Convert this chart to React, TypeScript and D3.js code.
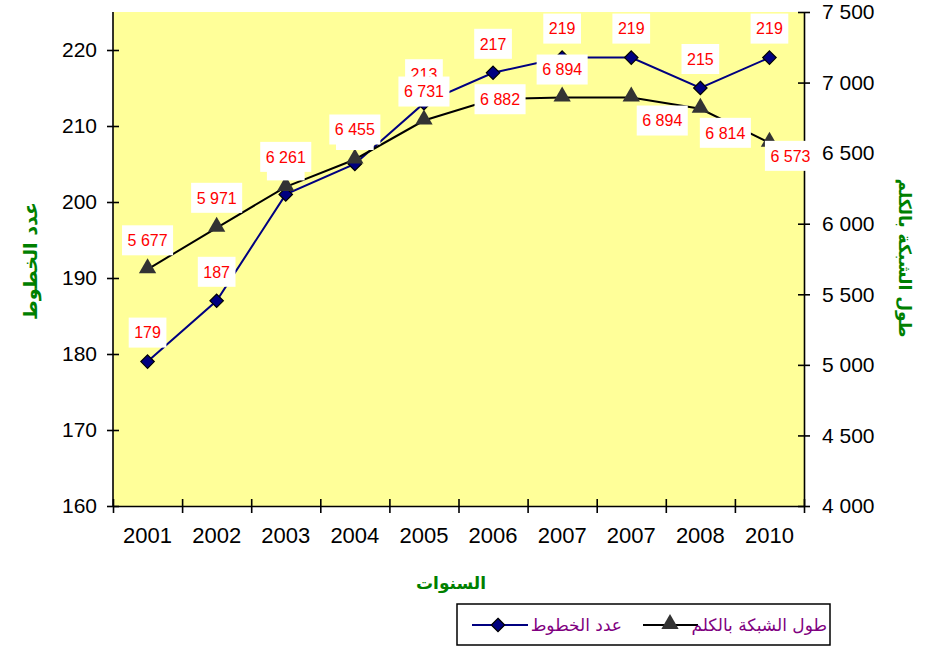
import React, { useRef, useEffect } from 'react'
import * as d3 from 'd3'

// data
const years = ['2001', '2002', '2003', '2004', '2005', '2006', '2007', '2007', '2008', '2010']
const linesCount = [179, 187, 201, 205, 213, 217, 219, 219, 215, 219]
const networkKm = [5677, 5971, 6261, 6455, 6731, 6882, 6894, 6894, 6814, 6573]
const leftTicks = [160, 170, 180, 190, 200, 210, 220]
const rightTicks = [4000, 4500, 5000, 5500, 6000, 6500, 7000, 7500]

const leftTitle = 'عدد الخطوط'
const rightTitle = 'طول الشبكة بالكلم'
const xTitle = 'السنوات'

// label placement relative to the point (dx, dy)
const linesLabelOffset = years.map(() => [0, -29])
const kmLabelOffset = [
  [0, -29], [0, -30], [0, -30], [0, -30], [0, -29], [7, 0], [0, -28], [31, 23], [25, 24], [21, 13],
]

const W = 935
const H = 648
const plot = { left: 113, right: 804, top: 12, bottom: 506 }
const numFont = '"Liberation Sans", Arial, sans-serif'
const arFont = '"DejaVu Sans", sans-serif'

const fmt = (v: number) => {
  const s = String(v)
  return s.length > 3 ? s.slice(0, s.length - 3) + ' ' + s.slice(-3) : s
}

const drawChart = (svg: SVGSVGElement) => {
  const root = d3.select(svg)
  root.selectAll('*').remove()

  const idx = years.map((_, i) => String(i))
  const x = d3.scaleBand().domain(idx).range([plot.left, plot.right])
  const xEdge = d3.scaleLinear().domain([0, years.length]).range([plot.left, plot.right])
  const yL = d3.scaleLinear().domain([160, 225]).range([plot.bottom, plot.top])
  const yR = d3.scaleLinear().domain([4000, 7500]).range([plot.bottom, plot.top])
  const cx = (i: number) => (x(String(i)) || 0) + x.bandwidth() / 2

  root
    .append('rect')
    .attr('x', plot.left)
    .attr('y', plot.top)
    .attr('width', plot.right - plot.left)
    .attr('height', plot.bottom - plot.top)
    .attr('fill', '#ffff99')

  // lines
  const lineL = d3
    .line<number>()
    .x((d, i) => cx(i))
    .y((d) => yL(d))
  const lineR = d3
    .line<number>()
    .x((d, i) => cx(i))
    .y((d) => yR(d))

  root
    .append('path')
    .datum(linesCount)
    .attr('fill', 'none')
    .attr('stroke', '#000080')
    .attr('stroke-width', 2)
    .attr('d', lineL)
  root
    .append('path')
    .datum(networkKm)
    .attr('fill', 'none')
    .attr('stroke', '#000000')
    .attr('stroke-width', 2)
    .attr('d', lineR)

  // markers
  const diamond = d3.symbol().type(d3.symbolDiamond2).size(115)
  const triangle = d3.symbol().type(d3.symbolTriangle).size(130)
  root
    .selectAll('path.dia')
    .data(linesCount)
    .enter()
    .append('path')
    .attr('class', 'dia')
    .attr('d', diamond)
    .attr('transform', (d, i) => `translate(${cx(i)},${yL(d)})`)
    .attr('fill', '#000080')
    .attr('stroke', '#000')
    .attr('stroke-width', 1.2)
  root
    .selectAll('path.tri')
    .data(networkKm)
    .enter()
    .append('path')
    .attr('class', 'tri')
    .attr('d', triangle)
    .attr('transform', (d, i) => `translate(${cx(i)},${yR(d) - 1})`)
    .attr('fill', '#333333')

  // axes
  const styleAxis = (g: d3.Selection<SVGGElement, unknown, null, undefined>, size = 21) => {
    g.select('.domain').attr('stroke', '#000').attr('stroke-width', 1.6)
    g.selectAll('.tick line').attr('stroke', '#000').attr('stroke-width', 1.6)
    g.selectAll('.tick text')
      .attr('fill', '#000')
      .style('font-family', numFont)
      .style('font-size', `${size}px`)
  }

  const gL = root
    .append('g')
    .attr('transform', `translate(${plot.left},0)`)
    .call(d3.axisLeft(yL).tickValues(leftTicks).tickSizeInner(6).tickSizeOuter(0).tickPadding(10))
  gL.select('.domain').attr('d', `M0,${plot.top}V${plot.bottom}`)
  gL.selectAll('.tick line').attr('x1', -6).attr('x2', 6)
  styleAxis(gL)

  const gR = root
    .append('g')
    .attr('transform', `translate(${plot.right},0)`)
    .call(
      d3
        .axisRight(yR)
        .tickValues(rightTicks)
        .tickFormat((d) => fmt(d as number))
        .tickSizeInner(6)
        .tickSizeOuter(0)
        .tickPadding(12),
    )
  gR.selectAll('.tick line').attr('x1', -6).attr('x2', 6)
  styleAxis(gR)

  const gB = root
    .append('g')
    .attr('transform', `translate(0,${plot.bottom})`)
    .call(
      d3
        .axisBottom(xEdge)
        .tickValues(d3.range(years.length + 1))
        .tickFormat(() => '')
        .tickSizeInner(7)
        .tickSizeOuter(0),
    )
  gB.selectAll('.tick line').attr('y1', -7).attr('y2', 7)
  styleAxis(gB)

  const gX = root
    .append('g')
    .attr('transform', `translate(0,${plot.bottom})`)
    .call(
      d3
        .axisBottom(x)
        .tickFormat((d) => years[+d])
        .tickSize(0)
        .tickPadding(21),
    )
  gX.select('.domain').remove()
  styleAxis(gX, 22)

  // data labels
  const addLabels = (
    values: number[],
    scale: d3.ScaleLinear<number, number>,
    offsets: number[][],
  ) => {
    values.forEach((v, i) => {
      const lx = cx(i) + offsets[i][0]
      const ly = scale(v) + offsets[i][1]
      const g = root.append('g').attr('transform', `translate(${lx},${ly})`)
      const rect = g.append('rect').attr('fill', '#fff')
      const t = g
        .append('text')
        .attr('text-anchor', 'middle')
        .attr('dy', '0.36em')
        .attr('fill', '#ff0000')
        .style('font-family', numFont)
        .style('font-size', '16px')
        .text(fmt(v))
      const tw = (t.node() as SVGTextElement).getComputedTextLength()
      const bw = tw + 11
      rect.attr('x', -bw / 2).attr('y', -15).attr('width', bw).attr('height', 30)
    })
  }
  addLabels(linesCount, yL, linesLabelOffset)
  addLabels(networkKm, yR, kmLabelOffset)

  // titles
  root
    .append('text')
    .attr('transform', `translate(30,261) rotate(-90)`)
    .attr('text-anchor', 'middle')
    .attr('dy', '0.35em')
    .attr('fill', '#008000')
    .style('font-family', arFont)
    .style('font-weight', 'bold')
    .style('font-size', '19px')
    .text(leftTitle)
  root
    .append('text')
    .attr('transform', `translate(905,258) rotate(90)`)
    .attr('text-anchor', 'middle')
    .attr('dy', '0.35em')
    .attr('fill', '#008000')
    .style('font-family', arFont)
    .style('font-weight', 'bold')
    .style('font-size', '17px')
    .text(rightTitle)
  root
    .append('text')
    .attr('x', 451)
    .attr('y', 583)
    .attr('text-anchor', 'middle')
    .attr('dy', '0.35em')
    .attr('fill', '#008000')
    .style('font-family', arFont)
    .style('font-weight', 'bold')
    .style('font-size', '17px')
    .text(xTitle)

  // legend
  const lg = root.append('g')
  lg.append('rect')
    .attr('x', 457)
    .attr('y', 604)
    .attr('width', 373)
    .attr('height', 41)
    .attr('fill', '#fff')
    .attr('stroke', '#000')
    .attr('stroke-width', 1.5)
  const ly = 625
  lg.append('line').attr('x1', 472).attr('x2', 528).attr('y1', ly).attr('y2', ly).attr('stroke', '#000080').attr('stroke-width', 2)
  lg.append('path')
    .attr('d', diamond)
    .attr('transform', `translate(498,${ly})`)
    .attr('fill', '#000080')
    .attr('stroke', '#000')
    .attr('stroke-width', 1.2)
  lg.append('text')
    .attr('x', 622)
    .attr('y', ly)
    .attr('dy', '0.35em')
    .attr('text-anchor', 'end')
    .attr('fill', '#800080')
    .style('font-family', arFont)
    .style('font-size', '17px')
    .text(leftTitle)
  lg.append('line').attr('x1', 643).attr('x2', 698).attr('y1', ly).attr('y2', ly).attr('stroke', '#000').attr('stroke-width', 2)
  lg.append('path')
    .attr('d', triangle)
    .attr('transform', `translate(670,${ly - 1})`)
    .attr('fill', '#333333')
  lg.append('text')
    .attr('x', 827)
    .attr('y', ly)
    .attr('dy', '0.35em')
    .attr('text-anchor', 'end')
    .attr('fill', '#800080')
    .style('font-family', arFont)
    .style('font-size', '17px')
    .text(rightTitle)
}

export default function App() {
  const ref = useRef<SVGSVGElement>(null)
  useEffect(() => {
    if (ref.current) drawChart(ref.current)
  }, [])
  return (
    <svg
      ref={ref}
      width={W}
      height={H}
      style={{ position: 'absolute', left: 0, top: 0, background: '#fff' }}
    />
  )
}
